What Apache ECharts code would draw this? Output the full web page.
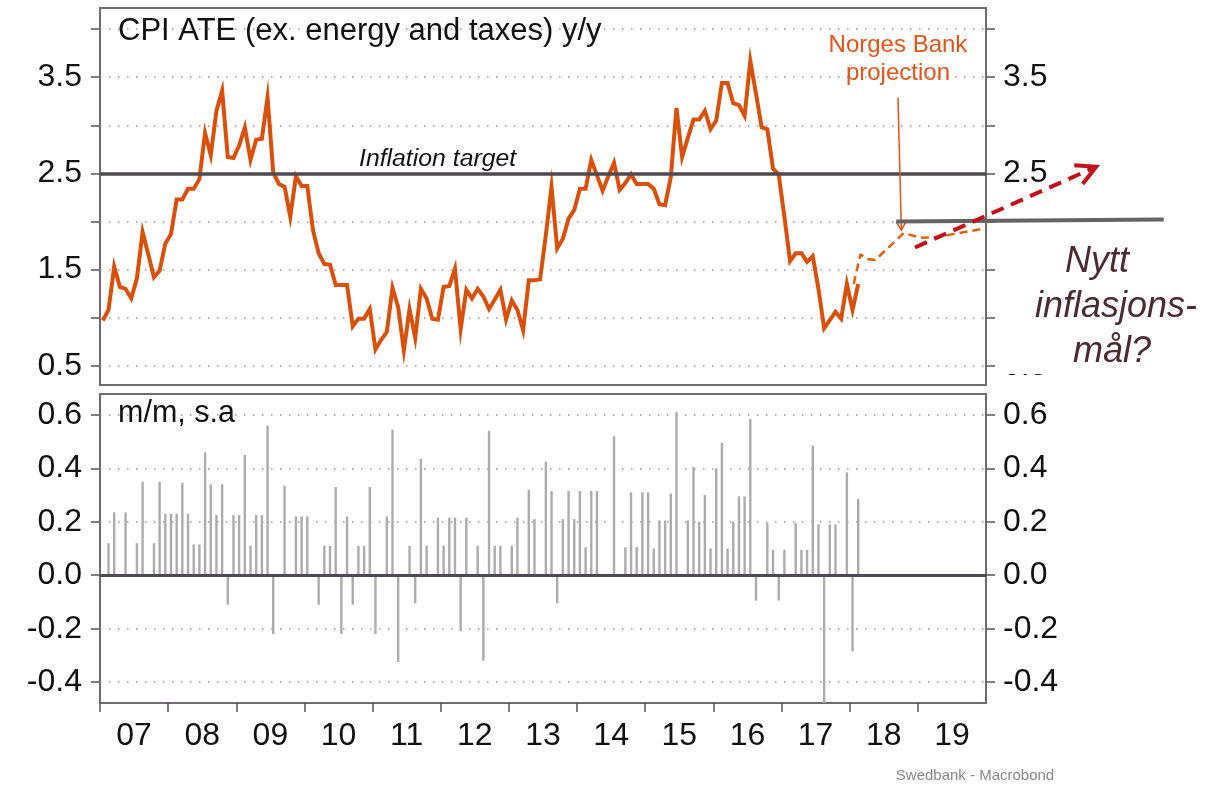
<!DOCTYPE html>
<html>
<head>
<meta charset="utf-8">
<script src="https://cdn.jsdelivr.net/npm/echarts@6/dist/echarts.min.js"></script>
<style>
  html, body { margin: 0; padding: 0; background: #ffffff; }
  #chart { width: 1216px; height: 785px; }
</style>
</head>
<body>
<div id="chart"></div>
<script>
// ---- data -------------------------------------------------------------
// Monthly observations from Jan 2007 (index 0); each month is drawn at its middle.
const yearLabels = ['07', '08', '09', '10', '11', '12', '13', '14', '15', '16', '17', '18', '19'];

// CPI-ATE, y/y %
const cpiAte = [
  0.97, 1.08, 1.53, 1.32, 1.30, 1.20, 1.41, 1.89, 1.66, 1.42, 1.49, 1.77,
  1.87, 2.23, 2.23, 2.34, 2.34, 2.44, 2.92, 2.69, 3.15, 3.36, 2.67, 2.66,
  2.79, 2.98, 2.64, 2.85, 2.86, 3.29, 2.51, 2.39, 2.36, 2.05, 2.47, 2.37,
  2.37, 1.91, 1.67, 1.56, 1.55, 1.34, 1.34, 1.34, 0.91, 0.99, 0.99, 1.09,
  0.67, 0.77, 0.85, 1.31, 1.11, 0.66, 1.09, 0.79, 1.30, 1.20, 0.99, 0.98,
  1.32, 1.33, 1.51, 0.88, 1.29, 1.20, 1.30, 1.22, 1.09, 1.19, 1.29, 0.98,
  1.18, 1.08, 0.87, 1.39, 1.39, 1.40, 1.86, 2.36, 1.72, 1.82, 2.03, 2.12,
  2.34, 2.34, 2.64, 2.48, 2.32, 2.47, 2.61, 2.33, 2.40, 2.49, 2.39, 2.39,
  2.39, 2.34, 2.18, 2.17, 2.46, 3.18, 2.67, 2.87, 3.06, 3.06, 3.15, 2.96,
  3.05, 3.44, 3.44, 3.23, 3.21, 3.10, 3.67, 3.33, 2.98, 2.96, 2.55, 2.49,
  2.05, 1.59, 1.67, 1.67, 1.58, 1.64, 1.30, 0.89, 0.975, 1.06, 0.99, 1.35,
  1.08, 1.35
];

// CPI-ATE, m/m seasonally adjusted %
const cpiAteMoM = [
  0, 0.12, 0.235, 0, 0.235, 0, 0.12, 0.35, 0, 0.12, 0.35, 0.23,
  0.23, 0.23, 0.345, 0.23, 0.115, 0.115, 0.46, 0.34, 0.225, 0.34, -0.11, 0.225,
  0.225, 0.45, 0.11, 0.225, 0.225, 0.56, -0.22, 0, 0.335, 0, 0.22, 0.22,
  0.22, 0, -0.11, 0.11, 0.11, 0.33, -0.22, 0.22, -0.11, 0.11, 0.11, 0.33,
  -0.22, 0, 0.22, 0.545, -0.325, 0, 0.11, -0.105, 0.435, 0.11, 0, 0.215,
  0.11, 0.215, 0.215, -0.21, 0.215, 0, 0.11, -0.32, 0.54, 0.11, 0.11, 0,
  0.11, 0.215, 0, 0.32, 0.21, 0, 0.425, 0.315, -0.105, 0.21, 0.315, 0.21,
  0.315, 0.105, 0.315, 0.315, 0, 0, 0.52, 0, 0.105, 0.31, 0.105, 0.31,
  0.31, 0.1, 0.205, 0.205, 0.305, 0.61, 0, 0.205, 0.405, 0.2, 0.3, 0.1,
  0.4, 0.495, 0.1, 0.2, 0.295, 0.295, 0.585, -0.095, 0, 0.195, 0.095, -0.095,
  0.095, 0, 0.195, 0.095, 0.095, 0.485, 0.19, -0.52, 0.19, 0.19, 0, 0.385,
  -0.285, 0.285
];

// Norges Bank projection: [month index, y/y %]
const nbProjection = [
  [132.2, 1.35], [133.4, 1.66], [134.6, 1.61], [136, 1.60], [141, 1.88],
  [144, 1.83], [147, 1.84], [155.5, 1.93]
];

const inflationTarget = 2.5;
// Suggested new target level, drawn beyond the plot: [month index, %]
const newTargetLine = [[140.2, 2.0], [187.3, 2.02]];
// Pointer from the projection label down to the projection path
const nbPointer = [[140.5, 3.29], [141.1, 1.91]];
// Dashed arrow: path back up towards the old target
const upArrow = [[143.5, 1.73], [175.4, 2.57]];

const topTicks = [0.5, 1.0, 1.5, 2.0, 2.5, 3.0, 3.5, 4.0];
const topLabels = [0.5, 1.5, 2.5, 3.5];
const bottomTicks = [-0.4, -0.2, 0.0, 0.2, 0.4, 0.6];

// ---- chart ------------------------------------------------------------
const FONT = '"Liberation Sans", Arial, sans-serif';
const MONTHS = yearLabels.length * 12;
const xTicks = yearLabels.slice(0, -1).map((_, k) => k * 12).concat([144]);
const xLabelPos = yearLabels.map((_, k) => k * 12 + 6);

const chart = echarts.init(document.getElementById('chart'), null, { renderer: 'canvas' });

const gridBorder = { show: true, borderColor: '#6f6b70', borderWidth: 2, backgroundColor: 'transparent' };
const dotted = { show: true, lineStyle: { type: [1.5, 7.5], color: '#9a9a9a', width: 1.5 } };
const tickStyle = { color: '#555', width: 1.5 };
const labelStyle = { fontSize: 32, color: '#111', fontFamily: FONT };

function yAxisDef(gridIndex, position, min, max, ticks, labels, withSplit) {
  return {
    gridIndex, type: 'value', position, min, max,
    axisLine: { show: false, onZero: false },
    axisTick: { show: true, customValues: ticks, length: 9, lineStyle: tickStyle },
    axisLabel: Object.assign({
      customValues: labels,
      formatter: v => v.toFixed(1),
      margin: position === 'left' ? 18 : 17
    }, labelStyle),
    splitLine: withSplit ? dotted : { show: false }
  };
}

chart.setOption({
  animation: false,
  textStyle: { fontFamily: FONT },
  grid: [
    Object.assign({ left: 100, right: 230, top: 8, height: 377 }, gridBorder),
    Object.assign({ left: 100, right: 230, top: 394, height: 309 }, gridBorder)
  ],
  xAxis: [
    { gridIndex: 0, type: 'value', min: 0, max: MONTHS, show: false },
    {
      gridIndex: 1, type: 'value', min: 0, max: MONTHS, position: 'bottom',
      axisLine: { show: false, onZero: false },
      axisTick: { show: true, customValues: xTicks, length: 9, lineStyle: tickStyle },
      axisLabel: Object.assign({
        customValues: xLabelPos,
        formatter: v => yearLabels[Math.round((v - 6) / 12)],
        margin: 17
      }, labelStyle),
      splitLine: { show: false }
    }
  ],
  yAxis: [
    yAxisDef(0, 'left', 0.3, 4.22, topTicks, topLabels, true),
    yAxisDef(0, 'right', 0.3, 4.22, topTicks, topLabels, false),
    yAxisDef(1, 'left', -0.478, 0.678, bottomTicks, bottomTicks, true),
    yAxisDef(1, 'right', -0.478, 0.678, bottomTicks, bottomTicks, false)
  ],
  series: [
    {
      name: 'Inflation target', type: 'line', xAxisIndex: 0, yAxisIndex: 0,
      data: [], silent: true, z: 2,
      markLine: {
        silent: true, symbol: 'none', animation: false,
        data: [{ yAxis: inflationTarget }],
        lineStyle: { color: '#4f4a52', width: 3.5, type: 'solid' },
        label: { show: false },
        emphasis: { disabled: true }
      }
    },
    {
      name: 'CPI ATE y/y', type: 'line', xAxisIndex: 0, yAxisIndex: 0,
      data: cpiAte.map((v, i) => [i + 0.5, v]),
      showSymbol: false, z: 4,
      lineStyle: { color: '#d9500b', width: 4, join: 'miter' }
    },
    {
      name: 'Norges Bank projection', type: 'line', xAxisIndex: 0, yAxisIndex: 0,
      data: nbProjection.map(p => [p[0] + 0.5, p[1]]),
      showSymbol: false, z: 4,
      lineStyle: { color: '#e0600f', width: 2.5, type: [8, 5] }
    },
    {
      name: 'CPI ATE m/m', type: 'bar', xAxisIndex: 1, yAxisIndex: 2,
      data: cpiAteMoM.map((v, i) => [i + 0.5, v]),
      barWidth: 2.4, itemStyle: { color: '#acacac' }, z: 2
    },
    {
      name: 'zero', type: 'line', xAxisIndex: 1, yAxisIndex: 2,
      data: [], silent: true, z: 3,
      markLine: {
        silent: true, symbol: 'none', animation: false,
        data: [{ yAxis: 0 }],
        lineStyle: { color: '#4f4a52', width: 3, type: 'solid' },
        label: { show: false },
        emphasis: { disabled: true }
      }
    }
  ]
});

// ---- annotations, placed through the top panel's scales ---------------
const px = p => chart.convertToPixel({ gridIndex: 0 }, p);

function chevron(from, to, len, halfAngleDeg) {
  const a = Math.atan2(from[1] - to[1], from[0] - to[0]);
  const h = halfAngleDeg * Math.PI / 180;
  return [
    [to[0] + len * Math.cos(a + h), to[1] + len * Math.sin(a + h)],
    [to[0], to[1]],
    [to[0] + len * Math.cos(a - h), to[1] + len * Math.sin(a - h)]
  ];
}

const tgtA = px(newTargetLine[0]), tgtB = px(newTargetLine[1]);
const ptrA = px(nbPointer[0]), ptrB = px(nbPointer[1]);
const upA = px(upArrow[0]), upB = px(upArrow[1]);
const targetY = px([0, inflationTarget])[1];

chart.setOption({
  graphic: [
    // panel captions
    { type: 'text', left: 118, top: 16, z: 20,
      style: { text: 'CPI ATE (ex. energy and taxes) y/y', fontSize: 31, fontFamily: FONT, fill: '#111' } },
    { type: 'text', left: 118, top: 398, z: 20,
      style: { text: 'm/m, s.a', fontSize: 30.5, fontFamily: FONT, fill: '#111' } },
    // target line caption, white box reaching the line's centre
    { type: 'text', x: 359, y: targetY, z: 3,
      style: { text: 'Inflation target', fontSize: 24.8, fontStyle: 'italic', fontFamily: FONT, fill: '#111',
               verticalAlign: 'bottom', backgroundColor: '#ffffff', padding: [1, 0, 2, 0] } },
    // projection label
    { type: 'text', x: ptrA[0], y: ptrA[1] - 52, z: 20,
      style: { text: 'Norges Bank', fontSize: 24, fontFamily: FONT, fill: '#e0561a', align: 'center', verticalAlign: 'middle' } },
    { type: 'text', x: ptrA[0], y: ptrA[1] - 24, z: 20,
      style: { text: 'projection', fontSize: 24, fontFamily: FONT, fill: '#e0561a', align: 'center', verticalAlign: 'middle' } },
    { type: 'polyline', z: 20, shape: { points: [ptrA, ptrB] },
      style: { stroke: '#e0561a', lineWidth: 1.5, fill: null } },
    { type: 'polyline', z: 20, shape: { points: chevron(ptrA, ptrB, 10, 30) },
      style: { stroke: '#e0561a', lineWidth: 1.5, fill: null } },
    // new target level
    { type: 'polyline', z: 21, shape: { points: [tgtA, tgtB] },
      style: { stroke: '#646464', lineWidth: 4, fill: null } },
    // white panel for the question, over the right-hand labels
    { type: 'rect', z: 30, shape: { x: 1000, y: 238, width: 216, height: 136 },
      style: { fill: '#ffffff' } },
    { type: 'text', x: 1097, y: 262, z: 31,
      style: { text: 'Nytt', fontSize: 36, fontStyle: 'italic', fontFamily: FONT, fill: '#4a2b30', align: 'center', verticalAlign: 'middle' } },
    { type: 'text', x: 1116, y: 307, z: 31,
      style: { text: 'inflasjons-', fontSize: 36, fontStyle: 'italic', fontFamily: FONT, fill: '#4a2b30', align: 'center', verticalAlign: 'middle' } },
    { type: 'text', x: 1112, y: 352, z: 31,
      style: { text: 'mål?', fontSize: 36, fontStyle: 'italic', fontFamily: FONT, fill: '#4a2b30', align: 'center', verticalAlign: 'middle' } },
    // dashed arrow back to the target
    { type: 'polyline', z: 32, shape: { points: [upA, upB] },
      style: { stroke: '#c0101a', lineWidth: 4, fill: null, lineDash: [13, 8] } },
    { type: 'polyline', z: 32, shape: { points: chevron(upA, upB, 22, 28) },
      style: { stroke: '#c0101a', lineWidth: 4, fill: null, lineJoin: 'miter' } },
    // source
    { type: 'text', x: 975, y: 776, z: 20,
      style: { text: 'Swedbank - Macrobond', fontSize: 15, fontFamily: FONT, fill: '#888888', align: 'center', verticalAlign: 'middle' } }
  ]
});
</script>
</body>
</html>
